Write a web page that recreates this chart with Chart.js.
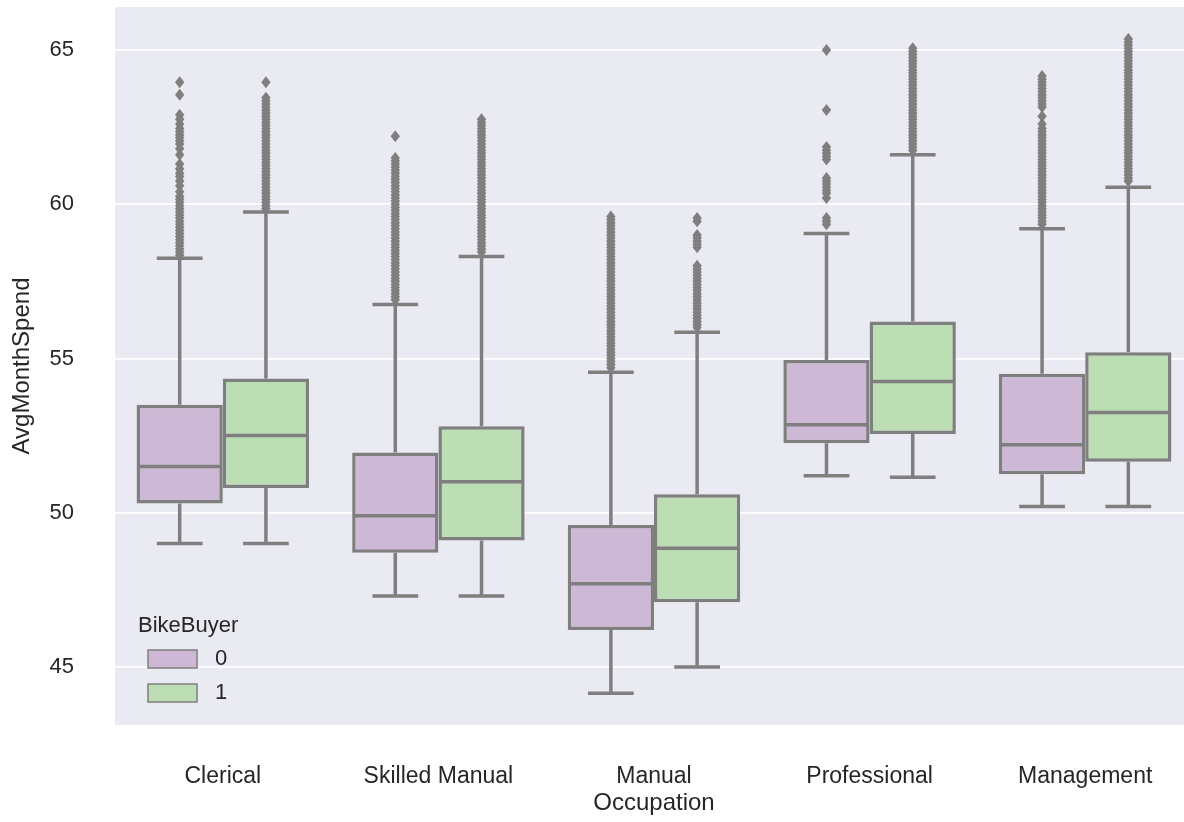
<!DOCTYPE html>
<html>
<head>
<meta charset="utf-8">
<script src="https://cdn.jsdelivr.net/npm/chart.js@4/dist/chart.umd.min.js"></script>
<style>
  html, body { margin: 0; padding: 0; background: #fff; overflow: hidden; }
  #wrap { position: absolute; left: 0; top: 0; width: 1200px; height: 822px; }
</style>
</head>
<body>
<div id="wrap"><canvas id="boxChart" width="1200" height="822"></canvas></div>
<script>
// categories and hue levels
const occupations = ["Clerical", "Skilled Manual", "Manual", "Professional", "Management"];
const hueLevels = ["0", "1"];
const yTickValues = [45, 50, 55, 60, 65];

// BikeBuyer = 0
const q1Buyer0  = [50.3, 48.7, 46.2, 52.25, 51.25];
const q3Buyer0  = [53.5, 51.95, 49.6, 54.95, 54.5];
const medBuyer0 = [51.5, 49.9, 47.7, 52.85, 52.2];
const loBuyer0  = [49.0, 47.3, 44.15, 51.2, 50.2];
const hiBuyer0  = [58.25, 56.75, 54.55, 59.05, 59.2];

// BikeBuyer = 1
const q1Buyer1  = [50.8, 49.1, 47.1, 52.55, 51.65];
const q3Buyer1  = [54.35, 52.8, 50.6, 56.2, 55.2];
const medBuyer1 = [52.5, 51.0, 48.85, 54.25, 53.25];
const loBuyer1  = [49.0, 47.3, 45.0, 51.15, 50.2];
const hiBuyer1  = [59.75, 58.3, 55.85, 61.6, 60.55];

// fliers, one list per box (dense runs included)
const outClerical0 = [63.95, 63.55, 62.9, 62.75, 62.6, 62.45, 62.35, 62.25, 62.15, 62.05, 61.95, 61.8, 61.6,
  61.3, 61.15, 61.0, 60.9, 60.75, 60.6, 60.4, 60.25, 60.15, 60.05, 59.95, 59.85, 59.75, 59.65, 59.55, 59.45,
  59.35, 59.25, 59.15, 59.05, 58.95, 58.85, 58.75, 58.65, 58.55, 58.45, 58.35];
const outClerical1 = [63.95, 63.45, 63.35, 63.25, 63.15, 63.05, 62.95, 62.85, 62.75, 62.65, 62.55, 62.45,
  62.35, 62.25, 62.15, 62.05, 61.95, 61.85, 61.75, 61.65, 61.55, 61.45, 61.35, 61.25, 61.15, 61.05, 60.95,
  60.85, 60.75, 60.65, 60.55, 60.45, 60.35, 60.25, 60.15, 60.05, 59.95, 59.85];
const outSkilled0 = [62.2, 61.5, 61.4, 61.3, 61.2, 61.1, 61.0, 60.9, 60.8, 60.7, 60.6, 60.5, 60.4, 60.3, 60.2,
  60.1, 60.0, 59.9, 59.8, 59.7, 59.6, 59.5, 59.4, 59.3, 59.2, 59.1, 59.0, 58.9, 58.8, 58.7, 58.6, 58.5, 58.4,
  58.3, 58.2, 58.1, 58.0, 57.9, 57.8, 57.7, 57.6, 57.5, 57.4, 57.3, 57.2, 57.1, 57.0, 56.9];
const outSkilled1 = [62.75, 62.65, 62.55, 62.45, 62.35, 62.25, 62.15, 62.05, 61.95, 61.85, 61.75, 61.65,
  61.55, 61.45, 61.35, 61.25, 61.15, 61.05, 60.95, 60.85, 60.75, 60.65, 60.55, 60.45, 60.35, 60.25, 60.15,
  60.05, 59.95, 59.85, 59.75, 59.65, 59.55, 59.45, 59.35, 59.25, 59.15, 59.05, 58.95, 58.85, 58.75, 58.65,
  58.55, 58.45];
const outManual0 = [59.6, 59.5, 59.4, 59.3, 59.2, 59.1, 59.0, 58.9, 58.8, 58.7, 58.6, 58.5, 58.4, 58.3, 58.2,
  58.1, 58.0, 57.9, 57.8, 57.7, 57.6, 57.5, 57.4, 57.3, 57.2, 57.1, 57.0, 56.9, 56.8, 56.7, 56.6, 56.5, 56.4,
  56.3, 56.2, 56.1, 56.0, 55.9, 55.8, 55.7, 55.6, 55.5, 55.4, 55.3, 55.2, 55.1, 55.0, 54.9, 54.8, 54.7];
const outManual1 = [59.55, 59.45, 59.0, 58.9, 58.8, 58.7, 58.6, 58.0, 57.9, 57.8, 57.7, 57.6, 57.5, 57.4, 57.3,
  57.2, 57.1, 57.0, 56.9, 56.8, 56.7, 56.6, 56.5, 56.4, 56.3, 56.2, 56.1, 56.0];
const outProf0 = [65.0, 63.05, 61.85, 61.75, 61.65, 61.55, 61.45, 60.85, 60.75, 60.65, 60.55, 60.45, 60.35,
  60.2, 59.55, 59.45, 59.35];
const outProf1 = [65.05, 64.95, 64.85, 64.75, 64.65, 64.55, 64.45, 64.35, 64.25, 64.15, 64.05, 63.95, 63.85,
  63.75, 63.65, 63.55, 63.45, 63.35, 63.25, 63.15, 63.05, 62.95, 62.85, 62.75, 62.65, 62.55, 62.45, 62.35,
  62.25, 62.15, 62.05, 61.95, 61.85, 61.75];
const outMgmt0 = [64.15, 64.05, 63.95, 63.85, 63.75, 63.65, 63.55, 63.45, 63.35, 63.25, 63.15, 62.85, 62.6,
  62.45, 62.35, 62.25, 62.15, 62.05, 61.95, 61.85, 61.75, 61.65, 61.55, 61.45, 61.35, 61.25, 61.15, 61.05,
  60.95, 60.85, 60.75, 60.65, 60.55, 60.45, 60.35, 60.25, 60.15, 60.05, 59.95, 59.85, 59.75, 59.65, 59.55,
  59.45, 59.35];
const outMgmt1 = [65.35, 65.25, 65.15, 65.05, 64.95, 64.85, 64.75, 64.65, 64.55, 64.45, 64.35, 64.25, 64.15,
  64.05, 63.95, 63.85, 63.75, 63.65, 63.55, 63.45, 63.35, 63.25, 63.15, 63.05, 62.95, 62.85, 62.75, 62.65,
  62.55, 62.45, 62.35, 62.25, 62.15, 62.05, 61.95, 61.85, 61.75, 61.65, 61.55, 61.45, 61.35, 61.25, 61.15,
  61.05, 60.95, 60.85, 60.75];

const outBuyer0 = [outClerical0, outSkilled0, outManual0, outProf0, outMgmt0];
const outBuyer1 = [outClerical1, outSkilled1, outManual1, outProf1, outMgmt1];

const LINE = "#7f7f7f";
const FILLS = ["#cdb9d6", "#bddeb5"];
const TEXT = "#262626";
const FONT = '"Liberation Sans", Arial, sans-serif';

Chart.defaults.font.family = FONT;
Chart.defaults.color = TEXT;

// background, whiskers, medians, fliers and legend
const boxExtras = {
  id: "boxExtras",
  beforeDraw(chart) {
    const { ctx, chartArea: a } = chart;
    ctx.save();
    ctx.fillStyle = "#eaeaf2";
    ctx.fillRect(a.left, a.top, a.right - a.left, a.bottom - a.top);
    ctx.restore();
  },
  afterDatasetsDraw(chart) {
    const ctx = chart.ctx;
    const y = chart.scales.y;
    const stats = [
      { med: medBuyer0, lo: loBuyer0, hi: hiBuyer0, out: outBuyer0 },
      { med: medBuyer1, lo: loBuyer1, hi: hiBuyer1, out: outBuyer1 }
    ];
    ctx.save();
    ctx.strokeStyle = LINE;
    ctx.fillStyle = LINE;
    ctx.lineWidth = 3.5;
    ctx.lineCap = "butt";
    stats.forEach((s, di) => {
      chart.getDatasetMeta(di).data.forEach((bar, i) => {
        const { x, width } = bar.getProps(["x", "width"], true);
        const [q1, q3] = chart.data.datasets[di].data[i];
        const half = width / 2;
        const capHalf = width * 0.265;
        const yq1 = y.getPixelForValue(q1), yq3 = y.getPixelForValue(q3);
        const ylo = y.getPixelForValue(s.lo[i]), yhi = y.getPixelForValue(s.hi[i]);
        const ymed = y.getPixelForValue(s.med[i]);
        ctx.beginPath();
        ctx.moveTo(x, yq1); ctx.lineTo(x, ylo);
        ctx.moveTo(x, yq3); ctx.lineTo(x, yhi);
        ctx.moveTo(x - capHalf, ylo); ctx.lineTo(x + capHalf, ylo);
        ctx.moveTo(x - capHalf, yhi); ctx.lineTo(x + capHalf, yhi);
        ctx.moveTo(x - half + 2, ymed); ctx.lineTo(x + half - 2, ymed);
        ctx.stroke();
        // thin diamond fliers
        s.out[i].forEach(v => {
          const py = y.getPixelForValue(v);
          ctx.beginPath();
          ctx.moveTo(x, py - 6);
          ctx.lineTo(x + 4.7, py);
          ctx.lineTo(x, py + 6);
          ctx.lineTo(x - 4.7, py);
          ctx.closePath();
          ctx.fill();
        });
      });
    });
    ctx.restore();
  },
  afterDraw(chart) {
    const ctx = chart.ctx;
    const a = chart.chartArea;
    const lx = a.left + 23, ty = a.top + 619;
    ctx.save();
    ctx.font = "22px " + FONT;
    ctx.fillStyle = TEXT;
    ctx.textBaseline = "middle";
    ctx.textAlign = "left";
    ctx.fillText("BikeBuyer", lx, ty);
    hueLevels.forEach((lab, k) => {
      const cy = ty + 33 + k * 34;
      ctx.fillStyle = FILLS[k];
      ctx.fillRect(lx + 10, cy - 9, 49, 18);
      ctx.strokeStyle = LINE;
      ctx.lineWidth = 1.5;
      ctx.strokeRect(lx + 10, cy - 9, 49, 18);
      ctx.fillStyle = TEXT;
      ctx.fillText(lab, lx + 77, cy);
    });
    ctx.restore();
  }
};

new Chart(document.getElementById("boxChart"), {
  type: "bar",
  data: {
    labels: occupations,
    datasets: [
      {
        label: hueLevels[0],
        data: q1Buyer0.map((v, i) => [v, q3Buyer0[i]]),
        backgroundColor: FILLS[0],
        borderColor: LINE,
        borderWidth: 3.5,
        borderSkipped: false,
        categoryPercentage: 0.8,
        barPercentage: 1.0
      },
      {
        label: hueLevels[1],
        data: q1Buyer1.map((v, i) => [v, q3Buyer1[i]]),
        backgroundColor: FILLS[1],
        borderColor: LINE,
        borderWidth: 3.5,
        borderSkipped: false,
        categoryPercentage: 0.8,
        barPercentage: 1.0
      }
    ]
  },
  options: {
    responsive: false,
    animation: false,
    devicePixelRatio: 1,
    layout: { padding: { top: 7, right: 7, left: 0, bottom: 0 } },
    plugins: {
      legend: { display: false },
      tooltip: { enabled: false }
    },
    scales: {
      x: {
        grid: { display: false },
        border: { display: false },
        ticks: { font: { size: 23 }, color: TEXT, padding: 30, maxRotation: 0 },
        title: { display: true, text: "Occupation", font: { size: 24 }, color: TEXT, padding: { top: 0, bottom: 4 } },
        afterFit(scale) { scale.height = 97; scale.paddingLeft = 0; scale.paddingRight = 0; }
      },
      y: {
        min: 43.12,
        max: 66.39,
        grid: { color: "#ffffff", lineWidth: 1.8, drawTicks: false },
        border: { display: false },
        ticks: { font: { size: 22 }, color: TEXT, padding: 41 },
        title: { display: true, text: "AvgMonthSpend", font: { size: 24 }, color: TEXT, padding: { top: 8, bottom: 0 } },
        afterBuildTicks(scale) { scale.ticks = yTickValues.map(v => ({ value: v })); },
        afterFit(scale) { scale.width = 115; scale.paddingTop = 0; scale.paddingBottom = 0; }
      }
    }
  },
  plugins: [boxExtras]
});
</script>
</body>
</html>
